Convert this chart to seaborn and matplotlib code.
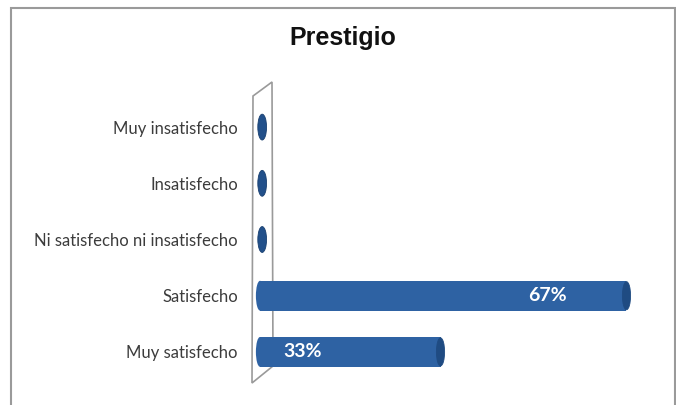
import seaborn as sns
import pandas as pd
from matplotlib import pyplot as plt
from matplotlib.patches import Ellipse, Polygon, Rectangle

categories = ["Muy insatisfecho", "Insatisfecho", "Ni satisfecho ni insatisfecho",
              "Satisfecho", "Muy satisfecho"]
values = [0, 0, 0, 67, 33]
labels = ["", "", "", "67%", "33%"]
label_inside_end = [False, False, False, True, False]

W, H = 676, 405
BLUE = "#2E62A3"
DARK = "#1F4B82"


def px(x, y):
    # figure pixel coords (top-left origin) -> figure fraction
    return x / W, 1 - y / H


def main():
    sns.set_theme(style="white")
    plt.rcParams["font.family"] = ["Lato", "DejaVu Sans"]

    df = pd.DataFrame({"cat": categories, "val": values})

    fig = plt.figure(figsize=(W / 100, H / 100), dpi=100)
    fig.patch.set_facecolor("white")
    ax = fig.add_axes([260 / W, (H - 380) / H, 408 / W, 281 / H])
    ax.set_zorder(2)

    sns.barplot(data=df, y="cat", x="val", orient="h", order=categories,
                color=BLUE, saturation=1, width=0.53, ax=ax, linewidth=0)
    ax.set_xlim(0, 408 / 5.47)
    ax.set_ylim(4.5, -0.5)

    # cylinder caps
    for i, v in enumerate(values):
        if v:
            ax.add_patch(Ellipse((0, i), 1.5, 0.53, facecolor=BLUE, edgecolor="none",
                                 zorder=2, clip_on=False))
            ax.add_patch(Ellipse((v, i), 1.5, 0.5, facecolor=DARK,
                                 edgecolor=DARK, linewidth=0.6, zorder=3, clip_on=False))
        else:
            ax.add_patch(Ellipse((v + 0.4, i), 1.6, 0.46, facecolor="#22508A",
                                 edgecolor="#1A4070", linewidth=0.6, zorder=3, clip_on=False))
        if labels[i]:
            if label_inside_end[i]:
                ax.text(v - 11, i, labels[i], ha="right", va="center", color="white",
                        fontsize=14, fontweight="bold", zorder=4)
            else:
                ax.text(4.2, i, labels[i], ha="left", va="center", color="white",
                        fontsize=14, fontweight="bold", zorder=4)

    ax.set(xlabel="", ylabel="", xticks=[])
    ax.tick_params(axis="y", length=0, pad=16, labelsize=12, labelcolor="#3c3c3c")
    for s in ax.spines.values():
        s.set_visible(False)
    ax.patch.set_alpha(0)

    # back wall of the 3D chart
    wall = [px(253, 96), px(272, 82), px(273, 366), px(252, 383)]
    fig.patches.append(Polygon(wall, closed=True, transform=fig.transFigure,
                               facecolor="none", edgecolor="#9a9a9a", linewidth=1.2, zorder=1))
    # outer chart border
    x0, y0 = px(11, 420)
    x1, y1 = px(675, 8)
    fig.patches.append(Rectangle((x0, y0), x1 - x0, y1 - y0, transform=fig.transFigure,
                                 facecolor="none", edgecolor="#9a9a9a", linewidth=1.5))

    fig.text(343 / W, 1 - 38 / H, "Prestigio", ha="center", va="center",
             fontsize=18, fontweight="bold", family="Liberation Sans", color="#111111")

    fig.savefig("out.png", dpi=100)


main()
